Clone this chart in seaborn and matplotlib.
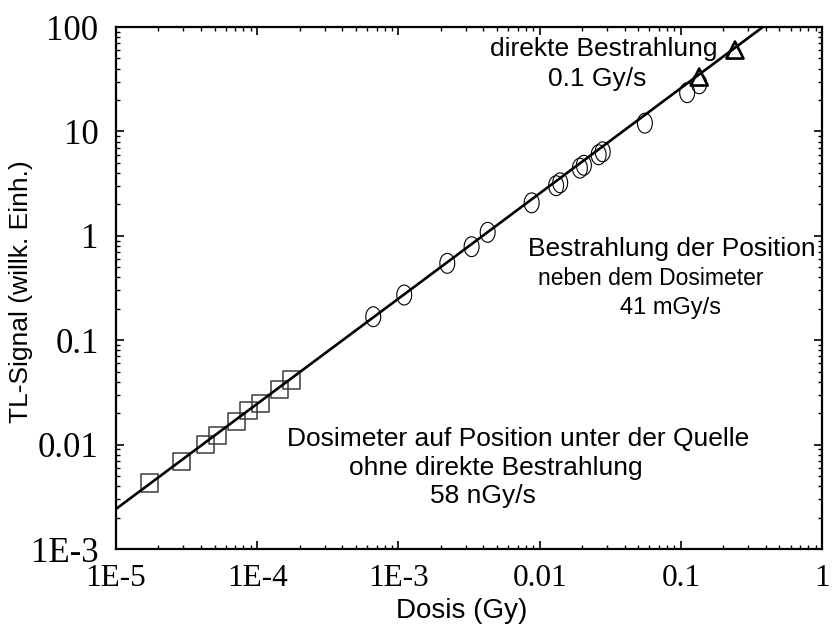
import numpy as np
import matplotlib
matplotlib.use("Agg")
import matplotlib.pyplot as plt
from matplotlib.path import Path
import seaborn as sns

# Dosimeter under the source, no direct irradiation (58 nGy/s)
dose_under = [1.74e-5, 2.90e-5, 4.32e-5, 5.22e-5, 7.16e-5, 8.65e-5, 1.06e-4, 1.45e-4, 1.76e-4]
signal_under = [4.29e-3, 6.92e-3, 9.98e-3, 0.0121, 0.0168, 0.0210, 0.0246, 0.0339, 0.0416]

# Irradiation of the position next to the dosimeter (41 mGy/s)
dose_next = [6.64e-4, 1.10e-3, 2.22e-3, 3.30e-3, 4.29e-3, 8.79e-3, 0.0131, 0.0140,
             0.0193, 0.0206, 0.0262, 0.0280, 0.0557, 0.111, 0.135]
signal_next = [0.168, 0.271, 0.545, 0.787, 1.08, 2.07, 3.02, 3.22,
               4.45, 4.74, 5.98, 6.38, 12.0, 23.5, 28.6]

# Direct irradiation (0.1 Gy/s)
dose_direct = [0.135, 0.242]
signal_direct = [33.2, 60.2]

# Fitted calibration line
fit_dose = [1e-5, 1e-3, 0.4]
fit_signal = [2.42e-3, 0.25, 105.0]

x_ticks = [1e-5, 1e-4, 1e-3, 1e-2, 1e-1, 1]
x_tick_labels = ["1E-5", "1E-4", "1E-3", "0.01", "0.1", "1"]
y_ticks = [1e-3, 1e-2, 1e-1, 1, 10, 100]
y_tick_labels = ["1E-3", "0.01", "0.1", "1", "10", "100"]

sns.set_theme(style="ticks")
plt.rcParams["font.family"] = ["Liberation Sans", "DejaVu Sans"]

fig = plt.figure(figsize=(8.35, 6.39), dpi=100)
ax = fig.add_axes([0.1389, 0.1408, 0.8455, 0.8169])
ax.set_xscale("log")
ax.set_yscale("log")

sns.lineplot(x=fit_dose, y=fit_signal, ax=ax, color="black", linewidth=1.9,
             sort=False, estimator=None, zorder=3)

t = np.linspace(0, 2 * np.pi, 73)
ellipse = Path(np.column_stack([0.75 * np.cos(t), np.sin(t)]), closed=True)

sns.scatterplot(x=dose_under, y=signal_under, ax=ax, marker="s", s=150,
                facecolors="none", edgecolor="#3c3c3c", linewidth=1.1, zorder=2)
sns.scatterplot(x=dose_next, y=signal_next, ax=ax, marker=ellipse, s=205,
                facecolors="none", edgecolor="black", linewidth=0.8, zorder=2)
sns.scatterplot(x=dose_direct, y=signal_direct, ax=ax, marker="^", s=150,
                facecolors="none", edgecolor="black", linewidth=1.9, zorder=4)

ax.set_xlim(1e-5, 1)
ax.set_ylim(1e-3, 100)
ax.set_xticks(x_ticks)
ax.set_xticklabels(x_tick_labels)
ax.set_yticks(y_ticks)
ax.set_yticklabels(y_tick_labels)

for lab in ax.get_xticklabels():
    lab.set_family("Liberation Serif")
    lab.set_fontsize(22.5)
    lab.set_color("black")
for lab in ax.get_yticklabels():
    lab.set_family("Liberation Serif")
    lab.set_fontsize(25)
    lab.set_color("black")

ax.tick_params(which="both", direction="in", top=True, right=True, color="black")
ax.tick_params(which="major", length=6, width=1.2)
ax.tick_params(which="minor", length=3, width=1.0)
ax.tick_params(axis="x", which="major", pad=10.5)
ax.tick_params(axis="y", which="major", pad=12.5)

for sp in ax.spines.values():
    sp.set_linewidth(1.6)
    sp.set_color("black")

ax.set_xlabel("Dosis (Gy)", fontsize=20, color="black")
ax.set_ylabel("TL-Signal (willk. Einh.)", fontsize=19, color="black")
ax.xaxis.set_label_coords(0.489, -0.093)
ax.yaxis.set_label_coords(-0.118, 0.494)

txt = dict(transform=ax.transAxes, color="black", ha="left", va="baseline")

ax.text(0.2422, 0.1973, "Dosimeter auf Position unter der Quelle", fontsize=19, **txt)
ax.text(0.3300, 0.1418, "ohne direkte Bestrahlung", fontsize=19, **txt)
ax.text(0.4450, 0.0881, "58 nGy/s", fontsize=19, **txt)

ax.text(0.5836, 0.5613, "Bestrahlung der Position", fontsize=19, **txt)
ax.text(0.5977, 0.5057, "neben dem Dosimeter", fontsize=16.5, **txt)
ax.text(0.7135, 0.4502, "41 mGy/s", fontsize=17, **txt)

ax.text(0.5297, 0.9444, "direkte Bestrahlung", fontsize=19, **txt)
ax.text(0.6119, 0.8870, "0.1 Gy/s", fontsize=19, **txt)

fig.savefig("out.png", dpi=100, facecolor="white")
